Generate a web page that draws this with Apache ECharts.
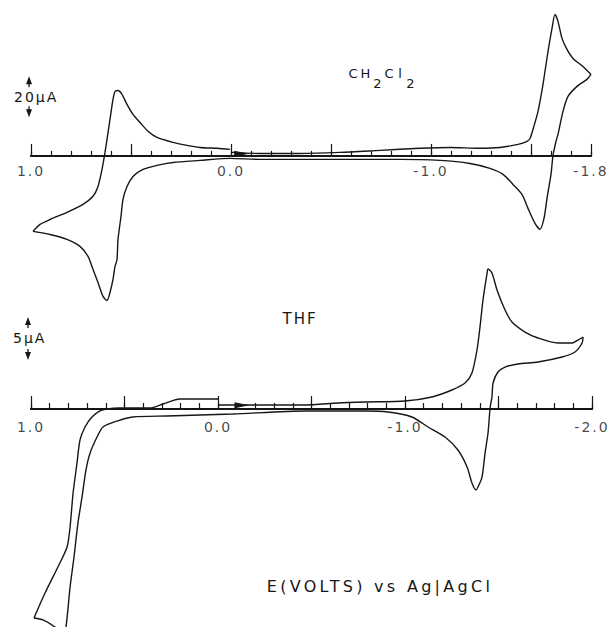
<!DOCTYPE html>
<html>
<head>
<meta charset="utf-8">
<script src="https://cdn.jsdelivr.net/npm/echarts@6/dist/echarts.min.js"></script>
<style>
html,body{margin:0;padding:0;background:#fff;}
#c{width:610px;height:627px;letter-spacing:2px;}
#c text[style*="16px"]{letter-spacing:3.3px;}
</style>
</head>
<body>
<div id="c"></div>
<script>
// ---- CH2Cl2 voltammogram: potential (V vs Ag|AgCl) and current (uA, cathodic up) ----
const ch2cl2E = [0.00,-0.145,-0.345,-0.545,-0.745,-0.945,-1.095,-1.245,-1.345,-1.435,-1.48,-1.495,-1.51,-1.535,-1.56,-1.585,-1.605,-1.62,-1.635,-1.655,-1.68,-1.71,-1.76,-1.80,
  -1.78,-1.73,-1.685,-1.66,-1.635,-1.625,-1.61,-1.60,-1.58,-1.565,-1.545,-1.52,-1.485,-1.455,-1.41,-1.36,-1.295,-1.195,-1.045,-0.845,-0.595,-0.345,-0.145,0.005,0.155,0.29,0.37,0.44,0.49,0.52,0.54,0.55,0.565,0.57,0.58,0.59,0.605,0.62,0.64,0.665,0.69,0.715,0.755,0.82,0.905,0.99,
  0.955,0.905,0.82,0.74,0.69,0.665,0.645,0.63,0.62,0.605,0.59,0.58,0.565,0.545,0.52,0.49,0.455,0.415,0.37,0.29,0.22,0.155,0.07,0.005];
const ch2cl2I = [1.7,1.2,1.2,1.7,2.7,3.7,4.1,3.7,4.1,5.6,7.1,8.5,12.9,21.7,34.9,50.9,62.2,69.0,65.6,57.3,51.9,47.5,43.6,39.7,
  37.3,33.9,29.0,21.7,10.5,7.1,0.2,-9.0,-20.7,-30.5,-35.8,-32.9,-25.6,-18.8,-13.9,-9.0,-6.1,-3.7,-2.2,-1.7,-1.7,-1.7,-1.7,-1.2,-2.2,-3.2,-4.6,-6.6,-10.0,-14.9,-21.2,-29.5,-40.7,-50.5,-53.9,-60.2,-66.6,-70.5,-68.5,-61.7,-55.3,-49.0,-44.1,-40.7,-38.3,-36.8,
  -33.4,-31.0,-27.5,-23.6,-19.7,-14.9,-6.6,1.7,8.0,17.8,27.5,31.4,31.9,30.0,25.1,20.2,16.3,12.0,9.0,6.6,5.1,4.1,3.7,3.2];

// ---- THF voltammogram ----
const thfE = [0.0,-0.171,-0.465,-0.642,-0.786,-1.0,-1.144,-1.251,-1.321,-1.358,-1.385,-1.401,-1.417,-1.439,-1.444,-1.465,-1.492,-1.535,-1.572,-1.642,-1.711,-1.818,-1.893,-1.925,-1.952,
  -1.947,-1.909,-1.840,-1.711,-1.604,-1.535,-1.497,-1.471,-1.465,-1.455,-1.444,-1.428,-1.412,-1.390,-1.380,-1.358,-1.332,-1.283,-1.214,-1.123,-1.037,-0.909,-0.786,-0.465,-0.080,0.273,0.455,0.540,0.615,0.647,0.684,0.706,0.727,0.749,0.770,0.791,0.813,0.829,0.850,0.872,0.936,0.984,
  0.925,0.856,0.807,0.791,0.775,0.754,0.738,0.711,0.674,0.631,0.594,0.524,0.364,0.294,0.203,0.150,0.0];
const thfI = [0.47,0.47,0.47,0.70,0.81,0.93,1.40,2.21,3.02,4.19,6.86,9.53,12.67,15.81,16.28,15.81,13.84,11.51,10.12,8.95,8.26,7.67,7.67,8.02,8.37,
  7.67,6.63,6.05,5.47,5.23,4.88,4.30,3.02,1.40,0.12,-2.79,-5.12,-7.91,-9.07,-9.42,-8.60,-6.74,-4.77,-3.26,-2.09,-0.93,-0.35,-0.23,-0.23,-0.58,-0.81,-0.93,-1.40,-2.09,-3.26,-5.12,-7.09,-10.23,-13.26,-17.21,-20.70,-25.35,-26.16,-25.93,-25.35,-24.53,-24.30,
  -21.40,-18.37,-16.05,-13.72,-9.77,-6.28,-3.60,-2.09,-0.93,-0.23,0,0.12,0.12,0.58,1.16,1.16,1.16];

// ---- axes ----
const ch2cl2Range = [-1.8, 1.0];
const thfRange = [-2.0, 1.0];
const ch2cl2MajorTicks = [1.0, 0.5, 0.0, -0.5, -1.0, -1.5, -1.8];
const thfMajorTicks = [1.0, 0.5, 0.0, -0.5, -1.0, -1.5, -2.0];
const ch2cl2TickLabels = [1.0, 0.0, -1.0, -1.8];
const thfTickLabels = [1.0, 0.0, -1.0, -2.0];
const ch2cl2CurrentRange = [-80, 76];
const thfCurrentRange = [-26, 20];

// ---- scale bars (current span in uA) ----
const scaleBarLabels = ['20μA', '5μA'];
const scaleBarSpans = [20, 5];
const scaleBarStarts = [18.8, 5.7];
const scaleBarPotentials = [1.01, 1.016];
// direction arrow on the start of each sweep
const sweepArrowCH2Cl2 = [-0.053, 1.1];
const sweepArrowTHF = [-0.128, 0.45];

const INK = '#161616';
const FONT = 'DejaVu Sans';

function segments(E, I) {
  const d = E.map((e, k) => [e, I[k]]);
  let iMin = 0, iMax = 0;
  E.forEach((e, k) => { if (e < E[iMin]) iMin = k; if (e > E[iMax]) iMax = k; });
  return [d.slice(0, iMin + 1), d.slice(iMin, iMax + 1), d.slice(iMax)];
}

function buildXAxes(gridIndex, yIndex, range, lens, majorVals) {
  const line = {show: true, onZero: true, onZeroAxisIndex: yIndex, lineStyle: {color: INK, width: 2}};
  const common = {type: 'value', gridIndex: gridIndex, inverse: true, min: range[0], max: range[1],
    position: 'bottom', axisLine: line, splitLine: {show: false}, minorTick: {show: false}, axisLabel: {show: false}};
  const tk = (len, extra) => Object.assign({show: true, inside: true, length: len, lineStyle: {color: INK, width: 1.2}}, extra || {});
  return [
    Object.assign({}, common, {axisTick: tk(lens[1], {customValues: majorVals})}),
    Object.assign({}, common, {interval: 0.1, axisTick: tk(lens[0])})
  ];
}

// tick labels placed on the zero-current line through the axis scales
function tickLabelSeries(values, xi, yi, dist) {
  return {type: 'scatter', xAxisIndex: xi, yAxisIndex: yi, silent: true, animation: false, clip: false,
    symbol: 'circle', symbolSize: 0, itemStyle: {color: 'rgba(0,0,0,0)'},
    data: values.map(v => [v, 0]),
    label: {show: true, position: 'bottom', distance: dist, color: INK, fontSize: 14, fontFamily: FONT,
      formatter: p => Number(p.value[0]).toFixed(1)},
    z: 5};
}

function curveSeries(E, I, xi, yi, arrow) {
  return segments(E, I).map((d, k) => {
    const s = {type: 'line', xAxisIndex: xi, yAxisIndex: yi, data: d, showSymbol: false, symbol: 'none',
      smooth: 0.25, lineStyle: {color: INK, width: 1.4}, silent: true, animation: false, clip: true};
    if (k === 0) {
      s.markPoint = {symbol: 'triangle', symbolSize: [6, 15], symbolRotate: -90, silent: true,
        itemStyle: {color: INK}, label: {show: false}, animation: false, data: [{coord: arrow}]};
    }
    return s;
  });
}

const option = {
  backgroundColor: '#fff',
  animation: false,
  grid: [
    {left: 31, right: 19, top: 0, height: 320, containLabel: false, outerBoundsMode: 'none'},
    {left: 31, right: 18, top: 237, height: 395.6, containLabel: false, outerBoundsMode: 'none'}
  ],
  xAxis: [].concat(
    buildXAxes(0, 0, ch2cl2Range, [5, 12], ch2cl2MajorTicks),
    buildXAxes(1, 1, thfRange, [6, 13], thfMajorTicks)
  ),
  yAxis: [
    {type: 'value', gridIndex: 0, show: false, min: ch2cl2CurrentRange[0], max: ch2cl2CurrentRange[1], splitLine: {show: false}},
    {type: 'value', gridIndex: 1, show: false, min: thfCurrentRange[0], max: thfCurrentRange[1], splitLine: {show: false}}
  ],
  series: [].concat(
    curveSeries(ch2cl2E, ch2cl2I, 0, 0, sweepArrowCH2Cl2),
    curveSeries(thfE, thfI, 2, 1, sweepArrowTHF),
    [tickLabelSeries(ch2cl2TickLabels, 0, 0, 8), tickLabelSeries(thfTickLabels, 2, 1, 11)]
  )
};

const chart = echarts.init(document.getElementById('c'), null, {renderer: 'svg', width: 610, height: 627});
chart.setOption(option);

const graphics = [];
[[0, 0], [2, 1]].forEach((ax, b) => {
  const finder = {xAxisIndex: ax[0], yAxisIndex: ax[1]};
  const top = chart.convertToPixel(finder, [scaleBarPotentials[b], scaleBarStarts[b] + scaleBarSpans[b]]);
  const bot = chart.convertToPixel(finder, [scaleBarPotentials[b], scaleBarStarts[b]]);
  const x = top[0], y1 = top[1], y2 = bot[1], ym = (y1 + y2) / 2;
  graphics.push({type: 'polygon', silent: true, shape: {points: [[x, y1], [x - 3, y1 + 8], [x + 3, y1 + 8]]}, style: {fill: INK}});
  graphics.push({type: 'line', silent: true, shape: {x1: x, y1: y1 + 6, x2: x, y2: y1 + 11}, style: {stroke: INK, lineWidth: 1.3}});
  graphics.push({type: 'polygon', silent: true, shape: {points: [[x, y2], [x - 3, y2 - 8], [x + 3, y2 - 8]]}, style: {fill: INK}});
  graphics.push({type: 'line', silent: true, shape: {x1: x, y1: y2 - 6, x2: x, y2: y2 - 11}, style: {stroke: INK, lineWidth: 1.3}});
  graphics.push({type: 'text', silent: true, x: x - 15, y: ym,
    style: {text: scaleBarLabels[b], fontSize: 14, fontFamily: FONT, fill: INK,
      textAlign: 'left', align: 'left', textVerticalAlign: 'middle', verticalAlign: 'middle'}});
});

graphics.push({type: 'text', silent: true, x: 347, y: 73,
  style: {text: '{a|C}{a|H}{s|2}{a|C}{l|l}{s|2}', fontSize: 13, fontFamily: FONT, fill: INK,
    textAlign: 'left', align: 'left', textVerticalAlign: 'middle', verticalAlign: 'middle',
    rich: {
      a: {fontSize: 13, fontFamily: FONT, fill: INK, padding: [0, 1.5, 0, 1.5]},
      l: {fontSize: 13, fontFamily: FONT, fill: INK, padding: [0, 3, 0, 3]},
      s: {fontSize: 13, fontFamily: FONT, fill: INK, padding: [20, 1.5, 0, 1.5]}
    }}});
graphics.push({type: 'text', silent: true, x: 300, y: 319,
  style: {text: 'THF', fontSize: 15, fontFamily: FONT, fill: INK,
    textAlign: 'center', align: 'center', textVerticalAlign: 'middle', verticalAlign: 'middle'}});
graphics.push({type: 'text', silent: true, x: 380, y: 586,
  style: {text: 'E(VOLTS) vs Ag|AgCl', fontSize: 16, fontFamily: FONT, fill: INK,
    textAlign: 'center', align: 'center', textVerticalAlign: 'middle', verticalAlign: 'middle'}});

chart.setOption({graphic: {elements: graphics}});
</script>
</body>
</html>
